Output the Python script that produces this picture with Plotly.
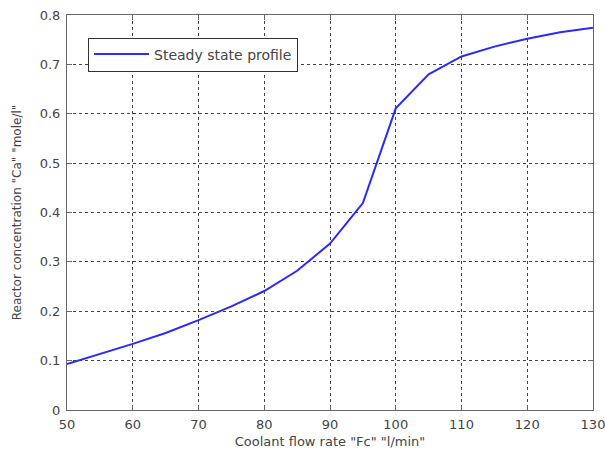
import plotly.graph_objects as go

flow_rate = [50, 55, 60, 65, 70, 75, 80, 85, 90, 95, 100, 105, 110, 115, 120, 125, 130]
concentration = [0.093, 0.113, 0.134, 0.156, 0.182, 0.210, 0.241, 0.282, 0.337, 0.419, 0.611, 0.680, 0.716, 0.736, 0.752, 0.765, 0.774]
x_ticks = [50, 60, 70, 80, 90, 100, 110, 120, 130]
y_ticks = [0, 0.1, 0.2, 0.3, 0.4, 0.5, 0.6, 0.7, 0.8]
y_tick_labels = ["0", "0.1", "0.2", "0.3", "0.4", "0.5", "0.6", "0.7", "0.8"]

FONT = "DejaVu Sans, Liberation Sans, Arial"

fig = go.Figure()
fig.add_trace(go.Scatter(
    x=flow_rate, y=concentration, mode="lines",
    name="Steady state profile",
    line=dict(color="#2a2aff", width=2),
))

axis_common = dict(
    showline=True, linecolor="#666666", linewidth=1, mirror="allticks",
    ticks="inside", ticklen=5, tickcolor="#666666",
    showgrid=True, gridcolor="#444444", griddash="dot", gridwidth=1,
    zeroline=False, automargin=False, ticklabeloverflow="allow",
    tickfont=dict(family=FONT, size=13, color="#444444"),
)

fig.update_layout(
    width=605, height=450,
    margin=dict(l=67, r=12, t=15, b=40),
    paper_bgcolor="white", plot_bgcolor="white",
    font=dict(family=FONT, color="#444444"),
    xaxis=dict(range=[50, 130], tickvals=x_ticks, ticklabelstandoff=2,
               title=dict(text='Coolant flow rate "Fc" "l/min"', font=dict(size=13), standoff=6),
               **axis_common),
    yaxis=dict(range=[0, 0.8], tickvals=y_ticks, ticktext=y_tick_labels, ticklabelstandoff=3,
               title=dict(text='Reactor concentration "Ca" "mole/l"', font=dict(size=12), standoff=15),
               **axis_common),
    legend=dict(x=0.04, y=0.943, xanchor="left", yanchor="top",
                bordercolor="#333333", borderwidth=1, bgcolor="white",
                itemwidth=55,
                font=dict(size=14, color="#444444")),
    showlegend=True,
)

fig.write_html("out.html")
